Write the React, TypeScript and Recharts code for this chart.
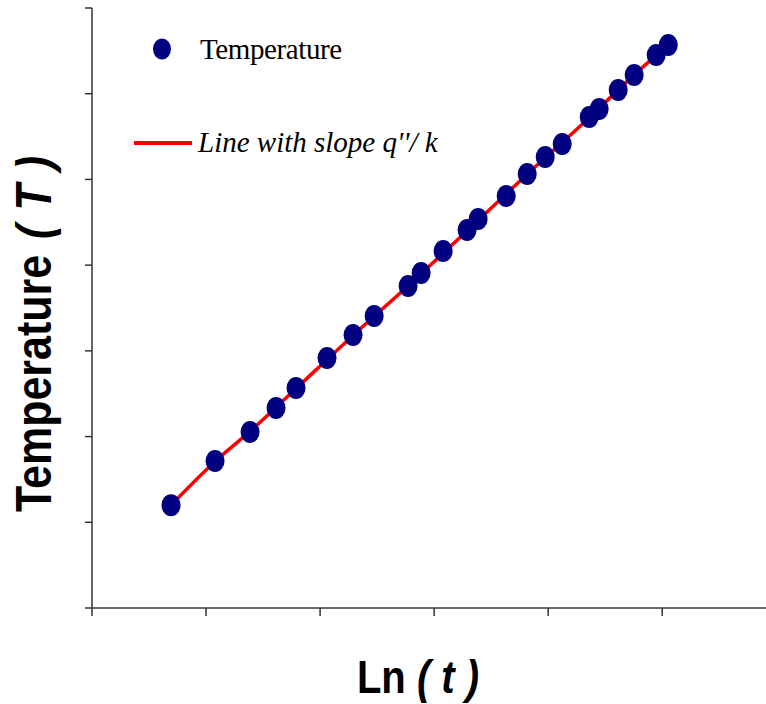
import React from "react";
import { ComposedChart, Line, Scatter, XAxis, YAxis, Customized } from "recharts";

// measured temperatures against ln(t)
const lnT = [0.693, 1.079, 1.386, 1.614, 1.789, 2.061, 2.289, 2.474, 2.772, 2.886, 3.079, 3.289, 3.386, 3.632, 3.816, 3.974, 4.123, 4.36, 4.447, 4.614, 4.754, 4.947, 5.053];
const temps = [1.2, 1.715, 2.054, 2.334, 2.567, 2.917, 3.185, 3.407, 3.757, 3.908, 4.165, 4.41, 4.538, 4.807, 5.063, 5.262, 5.413, 5.728, 5.822, 6.043, 6.218, 6.452, 6.568];

// fitted line knots
const fitX = [0.693, 1.079, 1.386, 1.789, 2.289, 2.772, 3.289, 3.816, 4.36, 4.754, 5.053];
const fitY = [1.2, 1.71, 2.06, 2.56, 3.18, 3.76, 4.4, 5.06, 5.72, 6.22, 6.57];

const xTicks = [0, 1, 2, 3, 4, 5];
const yTicks = [0, 1, 2, 3, 4, 5, 6, 7];

const tempData = lnT.map((x, i) => ({ x, y: temps[i] }));
const fitData = fitX.map((x, i) => ({ x, y: fitY[i] }));

const NAVY = "#000080";
const RED = "#ff0000";

const Dot = (props: any) => {
  const { cx, cy } = props;
  if (cx == null || cy == null) return null;
  return <ellipse cx={cx} cy={cy} rx={9.5} ry={11} fill={NAVY} />;
};

// no tick labels, only the tick marks
const NoLabel = () => <g />;

const Decorations = () => (
  <g>
    {/* legend */}
    <ellipse cx={162} cy={49} rx={9} ry={10.5} fill={NAVY} />
    <text x={200} y={59} fontFamily="'Liberation Serif', 'Times New Roman', serif" fontSize={29} letterSpacing={-0.4} fill="#000">
      Temperature
    </text>
    <line x1={134} y1={143} x2={192} y2={143} stroke={RED} strokeWidth={4} />
    <text x={198} y={152} fontFamily="'Liberation Serif', 'Times New Roman', serif" fontSize={29} fontStyle="italic" fill="#000">
      Line with slope q''/ k
    </text>

    {/* y axis title */}
    <text
      transform="translate(51, 334) rotate(-90) scale(1, 1.16)"
      textAnchor="middle"
      fontFamily="'Liberation Sans', Arial, sans-serif"
      fontWeight="bold"
      fontSize={43}
      fill="#000"
    >
      Temperature
      <tspan fontStyle="italic" dx={16}>(</tspan>
      <tspan fontStyle="italic" dx={14}>T</tspan>
      <tspan fontStyle="italic" dx={14}>)</tspan>
    </text>

    {/* x axis title */}
    <text
      transform="translate(418, 693) scale(1, 1.16)"
      textAnchor="middle"
      fontFamily="'Liberation Sans', Arial, sans-serif"
      fontWeight="bold"
      fontSize={40}
      fill="#000"
    >
      Ln<tspan fontStyle="italic"> ( t )</tspan>
    </text>
  </g>
);

export default function App() {
  return (
    <div style={{ position: "absolute", left: 0, top: 0, width: 766, height: 704, background: "#fff" }}>
      <ComposedChart width={766} height={704} margin={{ top: 8, right: 0, bottom: 95, left: 91 }}>
        <XAxis
          dataKey="x"
          type="number"
          domain={[0, 5.91]}
          ticks={xTicks}
          tick={NoLabel}
          tickLine={{ stroke: "#333", strokeWidth: 1.5 }}
          tickSize={8}
          height={1}
          stroke="#333"
          strokeWidth={1.5}
          allowDataOverflow
        />
        <YAxis
          dataKey="y"
          type="number"
          domain={[0, 7]}
          ticks={yTicks}
          tick={NoLabel}
          tickLine={{ stroke: "#333", strokeWidth: 1.5 }}
          tickSize={7}
          width={1}
          stroke="#333"
          strokeWidth={1.5}
          allowDataOverflow
        />
        <Line
          data={fitData}
          dataKey="y"
          type="monotone"
          stroke={RED}
          strokeWidth={3.5}
          dot={false}
          activeDot={false}
          isAnimationActive={false}
        />
        <Scatter data={tempData} dataKey="y" fill={NAVY} shape={Dot} isAnimationActive={false} />
        <Customized component={Decorations} />
      </ComposedChart>
    </div>
  );
}
